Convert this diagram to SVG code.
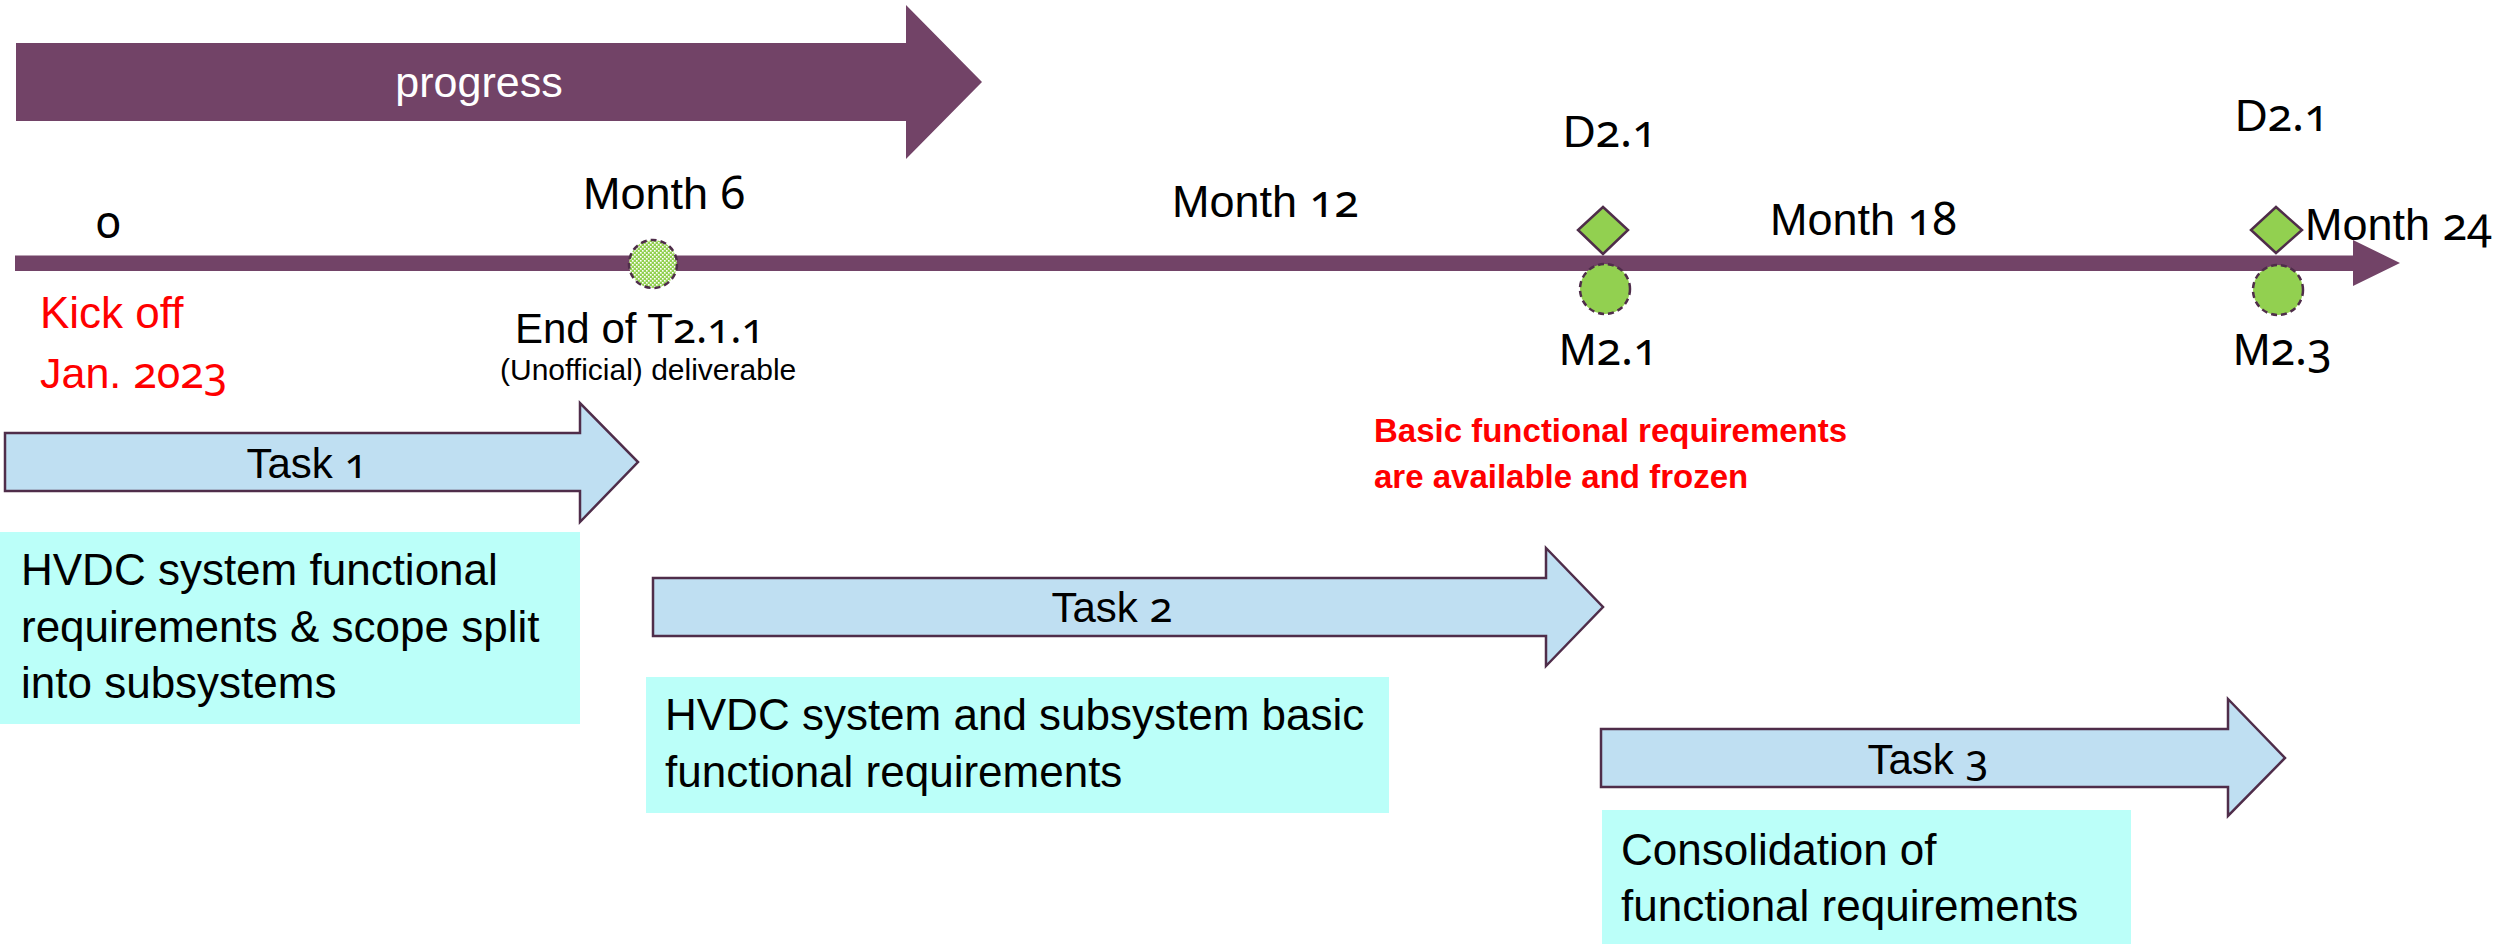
<svg xmlns="http://www.w3.org/2000/svg" width="2504" height="944" viewBox="0 0 2504 944">
  <defs>
    <style>
      text { font-family: "Liberation Sans", Arial, sans-serif; fill: #000; }
      .lbl { font-size: 45px; }
      .task { font-size: 42px; text-anchor: middle; }
      .desc { font-size: 44px; }
      .red { fill: #ff0000; }
      .note { font-size: 33px; font-weight: bold; fill: #ff0000; }
      .n { font-family: "Noto Sans", "Liberation Sans", sans-serif; font-variant-numeric: oldstyle-nums; font-feature-settings: "onum" 1; }
      .bar { fill: #724367; }
      .taskarrow { fill: #bfdff2; stroke: #4f2d4a; stroke-width: 2.5; stroke-linejoin: miter; }
      .box { fill: #bbfff9; }
      .ms { fill: #92d050; stroke: #4f2d4a; stroke-width: 2.5; stroke-dasharray: 6 4; }
      .dl { fill: #92d050; stroke: #4f2d4a; stroke-width: 2.5; }
    </style>
    <pattern id="checker" width="4" height="4" patternUnits="userSpaceOnUse">
      <rect width="4" height="4" fill="#92d050"/>
      <rect width="1.6" height="1.6" fill="#ffffff"/>
      <rect x="2" y="2" width="1.6" height="1.6" fill="#ffffff"/>
    </pattern>
  </defs>

  <rect width="2504" height="944" fill="#ffffff"/>

  <!-- overall progress arrow -->
  <g id="progress">
    <polygon class="bar" points="16,43 906,43 906,5 982,82 906,159 906,121 16,121"/>
    <text x="479" y="97" font-size="43" text-anchor="middle" style="fill:#ffffff">progress</text>
  </g>

  <!-- time axis -->
  <g id="timeline">
    <polygon class="bar" points="15,255.5 2353,255.5 2353,240 2400,263 2353,286 2353,271 15,271"/>
    <text class="lbl" x="96" y="238" font-size="40"><tspan class="n">0</tspan></text>
    <text class="lbl" x="583" y="209">Month <tspan class="n">6</tspan></text>
    <text class="lbl" x="1172" y="217">Month <tspan class="n">12</tspan></text>
    <text class="lbl" x="1770" y="235">Month <tspan class="n">18</tspan></text>
    <text class="lbl" x="2305" y="240">Month <tspan class="n">24</tspan></text>
  </g>

  <g id="kickoff">
    <text class="red" x="40" y="328" font-size="44">Kick off</text>
    <text class="red" x="40" y="388" font-size="43">Jan. <tspan class="n">2023</tspan></text>
  </g>

  <!-- month 6: end of T2.1.1 -->
  <g id="m6">
    <circle class="ms" cx="653" cy="264" r="24" fill="url(#checker)" style="fill:url(#checker)"/>
    <text x="515" y="343" font-size="42">End of T<tspan class="n">2.1.1</tspan></text>
    <text x="500" y="380" font-size="30">(Unofficial) deliverable</text>
  </g>

  <!-- month 12: D2.1 / M2.1 -->
  <g id="m12">
    <polygon class="dl" points="1603,207 1628,230 1603,254 1578,230"/>
    <circle class="ms" cx="1605" cy="289" r="25"/>
    <text class="lbl" x="1563" y="147" font-size="42">D<tspan class="n">2.1</tspan></text>
    <text class="lbl" x="1559" y="365" font-size="42">M<tspan class="n">2.1</tspan></text>
  </g>

  <!-- month 24: D2.1 / M2.3 -->
  <g id="m24">
    <polygon class="dl" points="2276,207 2302,230 2276,253 2251,230"/>
    <circle class="ms" cx="2278" cy="290" r="25"/>
    <text class="lbl" x="2235" y="131" font-size="42">D<tspan class="n">2.1</tspan></text>
    <text class="lbl" x="2233" y="365" font-size="42">M<tspan class="n">2.3</tspan></text>
  </g>

  <g id="frozen-note">
    <text class="note" x="1374" y="442">Basic functional requirements</text>
    <text class="note" x="1374" y="488">are available and frozen</text>
  </g>

  <!-- tasks -->
  <g id="task1">
    <polygon class="taskarrow" points="5,433 580,433 580,403 638,462 580,522 580,491 5,491"/>
    <text class="task" x="307" y="478">Task <tspan class="n">1</tspan></text>
    <rect class="box" x="0" y="532" width="580" height="192"/>
    <text class="desc" x="21" y="585">HVDC system functional</text>
    <text class="desc" x="21" y="642">requirements &amp; scope split</text>
    <text class="desc" x="21" y="698">into subsystems</text>
  </g>

  <g id="task2">
    <polygon class="taskarrow" points="653,578 1546,578 1546,548 1603,607 1546,666 1546,636 653,636"/>
    <text class="task" x="1112" y="622">Task <tspan class="n">2</tspan></text>
    <rect class="box" x="646" y="677" width="743" height="136"/>
    <text class="desc" x="665" y="730">HVDC system and subsystem basic</text>
    <text class="desc" x="665" y="787">functional requirements</text>
  </g>

  <g id="task3">
    <polygon class="taskarrow" points="1601,729 2228,729 2228,699 2285,758 2228,816 2228,787 1601,787"/>
    <text class="task" x="1928" y="774">Task <tspan class="n">3</tspan></text>
    <rect class="box" x="1602" y="810" width="529" height="134"/>
    <text class="desc" x="1621" y="865">Consolidation of</text>
    <text class="desc" x="1621" y="921">functional requirements</text>
  </g>

  <g id="connectors"></g>
</svg>
